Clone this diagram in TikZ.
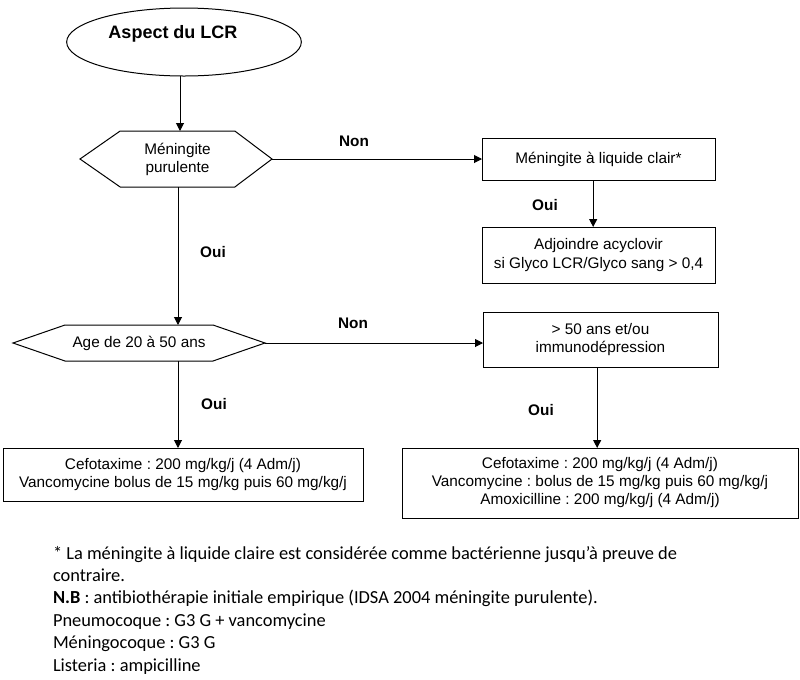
\documentclass[tikz,border=0pt]{standalone}
\usepackage{fontspec}
\setmainfont{Liberation Sans}
\newfontfamily\notefont{Carlito}
\usetikzlibrary{shapes.geometric,arrows.meta}
\frenchspacing
\begin{document}
\begin{tikzpicture}[x=0.75pt,y=-0.75pt,
  every node/.style={inner sep=0pt,outer sep=0pt},
  txt/.style={font=\fontsize{11.5}{13.5}\selectfont,align=center},
  lab/.style={font=\fontsize{11.5}{13.5}\selectfont\bfseries},
  boxn/.style={draw,line width=0.75pt,txt},
  shp/.style={draw,line width=0.75pt},
  conn/.style={line width=0.75pt},
  arr/.style={conn,-{Triangle[length=6pt,width=6pt]}},
  note/.style={font=\notefont\fontsize{13.8}{16}\selectfont,anchor=base west}]
\useasboundingbox (0,0) rectangle (800,679);
% start ellipse
\node[ellipse,shp,minimum width=176pt,minimum height=51pt] (lcr) at (184,42) {};
\node[font=\fontsize{13.5}{16}\selectfont\bfseries] (lcrt) at (173,34) {Aspect du LCR};
% hexagon 1
\node[txt,minimum width=86pt,minimum height=42pt] (hex1) at (177.5,159) {Méningite\\purulente};
\coordinate (h1l) at (80,159);
\coordinate (h1r) at (272,159);
\draw[shp] (h1l) -- (hex1.north west) -- (hex1.north east) -- (h1r) -- (hex1.south east) -- (hex1.south west) -- cycle;
\coordinate (h1t) at (180,131);
\coordinate (h1b) at (178,187);
% hexagon 2
\node[txt,minimum width=111pt,minimum height=27pt] (hex2) at (139,343) {Age de 20 à 50 ans};
\coordinate (h2l) at (13,343);
\coordinate (h2r) at (265,343);
\draw[shp] (h2l) -- (hex2.north west) -- (hex2.north east) -- (h2r) -- (hex2.south east) -- (hex2.south west) -- cycle;
% boxes
\node[boxn,minimum width=174.75pt,minimum height=31.5pt] (b1) at (598.5,159) {Méningite à liquide clair*};
\node[boxn,minimum width=174.75pt,minimum height=42pt] (b2) at (598.5,255) {Adjoindre acyclovir\\[1pt]si Glyco LCR/Glyco sang > 0,4};
\node[boxn,minimum width=176.25pt,minimum height=41.25pt] (b3) at (600.5,339.5) {> 50 ans et/ou\\immunodépression};
\node[boxn,minimum width=297pt,minimum height=52.5pt] (b4) at (600,483) {Cefotaxime : 200 mg/kg/j (4 Adm/j)\\Vancomycine : bolus de 15 mg/kg puis 60 mg/kg/j\\Amoxicilline : 200 mg/kg/j (4 Adm/j)};
\node[boxn,minimum width=270pt,minimum height=39.75pt] (b5) at (183,474.5) {Cefotaxime : 200 mg/kg/j (4 Adm/j)\\Vancomycine bolus de 15 mg/kg puis 60 mg/kg/j};
% connectors
\draw[arr] (lcr.south -| h1t) -- (h1t);
\draw[arr] (h1r) -- (h1r -| b1.west);
\draw[arr] ([xshift=-4pt]b1.south) -- ([xshift=-4pt]b1.south |- b2.north);
\draw[arr] (h1b) -- (h1b |- hex2.north);
\draw[arr] (h2r) -- (h2r -| b3.west);
\draw[arr] (h1b |- hex2.south) -- (h1b |- b5.north);
\draw[arr] ([xshift=-2.5pt]b3.south) -- ([xshift=-2.5pt]b3.south |- b4.north);
% labels
\node[lab] (n1) at (354,141) {Non};
\node[lab] (n2) at (353,323) {Non};
\node[lab] (o1) at (545,205) {Oui};
\node[lab] (o2) at (213,252) {Oui};
\node[lab] (o3) at (214,404) {Oui};
\node[lab] (o4) at (541,410) {Oui};
% footnote
\node[note] (f1) at (53,559) {* La méningite à liquide claire est considérée comme bactérienne jusqu’à preuve de};
\node[note] (f2) at (53,581.4) {contraire.};
\node[note] (f3) at (53,603.8) {\textbf{N.B} : antibiothérapie initiale empirique (IDSA 2004 méningite purulente).};
\node[note] (f4) at (53,626.2) {Pneumocoque : G3 G + vancomycine};
\node[note] (f5) at (53,648.6) {Méningocoque : G3 G};
\node[note] (f6) at (53,671) {Listeria : ampicilline};
\end{tikzpicture}
\end{document}
